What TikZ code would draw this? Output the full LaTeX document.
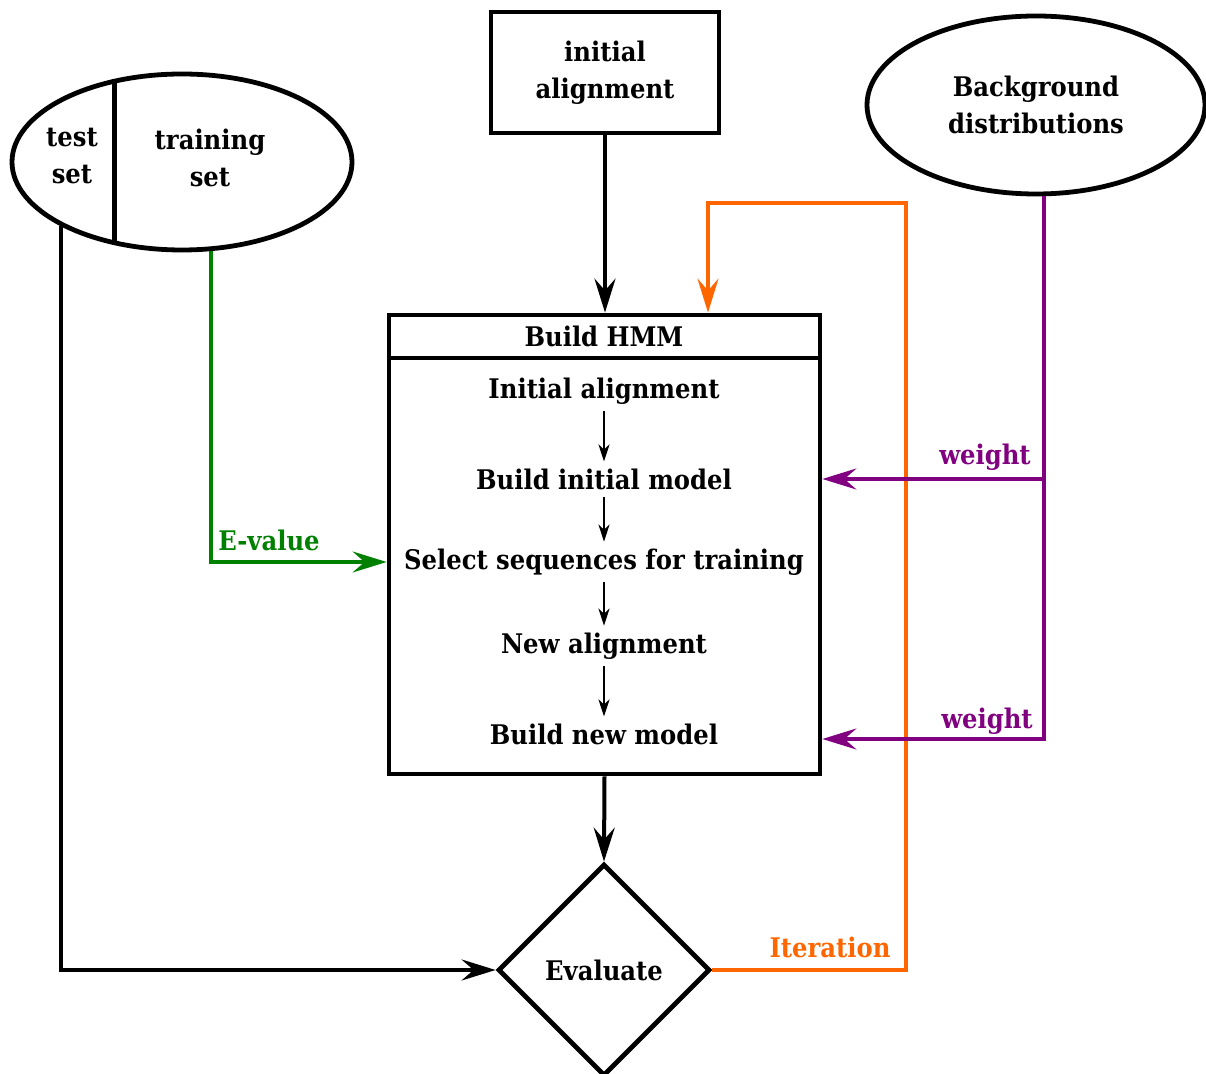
\documentclass[tikz,border=0pt]{standalone}
\usepackage{fontspec}
\setmainfont{DejaVu Serif Condensed}
\usetikzlibrary{shapes.geometric,arrows.meta}
\definecolor{iterorange}{RGB}{255,102,0}
\definecolor{wpurple}{RGB}{128,0,128}
\definecolor{egreen}{RGB}{0,128,0}

\begin{document}
\begin{tikzpicture}[x=0.5pt,y=-0.5pt,
  every node/.style={font=\bfseries\fontsize{13.5}{18.5}\selectfont,align=center},
  box/.style={draw,line width=2.4pt,inner sep=0pt},
  tip/.style={-{Stealth[length=17pt,width=10.5pt,inset=6pt]}},
  conn/.style={line width=2pt,tip},
  colconn/.style={line width=1.6pt,tip},
  innerarrow/.style={line width=1.4pt,-{Stealth[length=8.5pt,width=5.5pt,inset=2.5pt]}}]
\useasboundingbox (0,0) rectangle (1206,1074);

% data sets
\node[box,ellipse,minimum width=170pt,minimum height=88pt] (sets) at (182,162) {};
\draw[line width=2.4pt] (sets.129.6) -- (sets.129.6 |- sets.230.4);
\node (test) at (72,156) {test\\set};
\node (train) at (210,158) {training\\set};

% inputs
\node[box,minimum width=114pt,minimum height=60.5pt] (init) at (605,72.5) {initial\\alignment};
\node[box,ellipse,minimum width=169pt,minimum height=89pt] (bg) at (1036,105) {Background\\distributions};

% HMM building block
\node[box,minimum width=215.5pt,minimum height=229.5pt] (hmm) at (604.5,544.5) {};
\draw[line width=2.4pt] (hmm.west |- 0,358) -- (hmm.east |- 0,358);
\node (title) at (604,336) {Build HMM};
\node (s1) at (604,391) {Initial alignment};
\node (s2) at (604,479) {Build initial model};
\node (s3) at (604,562) {Select sequences for training};
\node (s4) at (604,646) {New alignment};
\node (s5) at (604,734) {Build new model};
\draw[innerarrow] (s1) -- (s2);
\draw[innerarrow] (s2) -- (s3);
\draw[innerarrow] (s3) -- (s4);
\draw[innerarrow] (s4) -- (s5);

% evaluation
\node[box,diamond,aspect=1,minimum width=106pt,minimum height=106pt] (eval) at (604,970) {Evaluate};

% black connectors
\draw[conn] (init.south) -- (init.south |- hmm.north);
\draw[conn] (hmm.south) -- (eval.north);
\draw[conn] (sets.208) |- (eval.west);

% training set -> HMM
\draw[colconn,egreen] (sets.-72) |- (hmm.west |- s3);
\node[text=egreen] (ev) at (269,540) {E-value};

% iteration loop
\coordinate (itRight) at (906,203);
\coordinate (itTop) at (708,203);
\draw[colconn,iterorange] (eval.east) -| (itRight) -- (itTop) -- (itTop |- hmm.north);
\node[text=iterorange] (iter) at (830,947) {Iteration};

% background weights
\coordinate (wj1) at (1044,479);
\coordinate (wj2) at (1044,739);
\draw[colconn,wpurple] (wj1 |- bg.south) -- (wj1) -- (wj1 -| hmm.east);
\draw[colconn,wpurple] (wj1) -- (wj2) -- (wj2 -| hmm.east);
\node[text=wpurple] (w1) at (985,457) {weight};
\node[text=wpurple] (w2) at (987,721) {weight};
\end{tikzpicture}
\end{document}
